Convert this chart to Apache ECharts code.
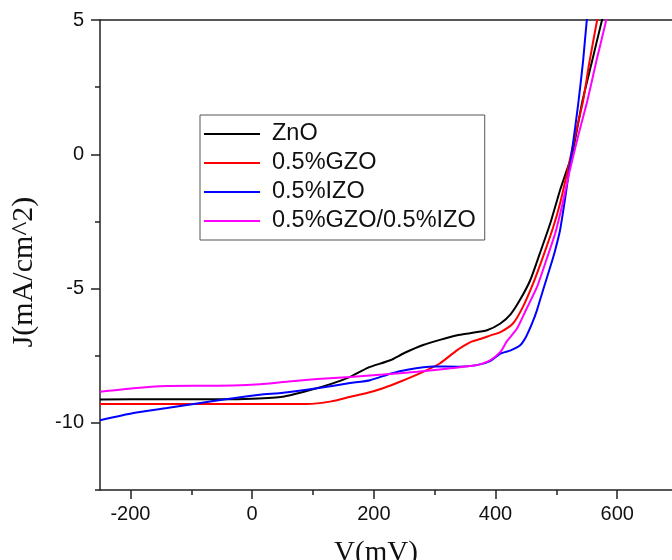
<!DOCTYPE html>
<html>
<head>
<meta charset="utf-8">
<script src="https://cdn.jsdelivr.net/npm/echarts@6/dist/echarts.min.js"></script>
<style>
  html, body { margin: 0; padding: 0; background: #ffffff; }
  #chart { width: 672px; height: 560px; }
</style>
</head>
<body>
<div id="chart"></div>
<script>
// J-V curves of the ZnO-based devices
const seriesNames = ['ZnO', '0.5%GZO', '0.5%IZO', '0.5%GZO/0.5%IZO'];

const znoV = [-250, -150, -50, 0, 50, 100, 130, 161, 190, 227, 250, 281, 310, 337, 358, 386, 408, 425, 440, 457, 473, 490, 506, 517, 526, 543, 559, 575, 590];
const znoJ = [-9.13, -9.12, -9.12, -9.1, -9.03, -8.75, -8.55, -8.29, -7.95, -7.67, -7.4, -7.1, -6.9, -6.74, -6.66, -6.55, -6.3, -5.95, -5.43, -4.69, -3.68, -2.57, -1.34, -0.6, 0, 2.0, 3.5, 5.0, 6.3];

const gzoV = [-250, -150, -50, 0, 50, 90, 130, 161, 190, 215, 245, 281, 309, 337, 358, 375, 391, 408, 429, 445, 462, 478, 495, 506, 517, 527, 536, 544, 554, 567, 580];
const gzoJ = [-9.3, -9.3, -9.3, -9.3, -9.3, -9.3, -9.2, -9.03, -8.88, -8.71, -8.45, -8.1, -7.78, -7.29, -7.0, -6.88, -6.75, -6.62, -6.29, -5.68, -4.8, -3.82, -2.7, -1.83, -0.75, 0.3, 1.2, 2.0, 3.4, 5.0, 6.6];

const izoV = [-250, -195, -140, -85, -31, 13, 51, 107, 161, 194, 227, 255, 298, 337, 369, 391, 408, 425, 440, 450, 460, 468, 478, 490, 498, 506, 514, 521, 528, 536, 544, 550, 558];
const izoJ = [-9.9, -9.63, -9.45, -9.26, -9.08, -8.95, -8.88, -8.71, -8.52, -8.41, -8.17, -8.02, -7.9, -7.91, -7.85, -7.7, -7.42, -7.3, -7.12, -6.8, -6.3, -5.81, -5.06, -4.19, -3.57, -2.83, -1.7, -0.6, 0.52, 1.9, 3.5, 5.0, 6.5];

const mixV = [-250, -195, -140, -85, -31, 13, 60, 107, 161, 215, 271, 330, 353, 369, 391, 408, 419, 435, 451, 468, 484, 498, 510, 522, 536, 551, 566, 582, 596];
const mixJ = [-8.84, -8.71, -8.63, -8.62, -8.61, -8.56, -8.46, -8.37, -8.29, -8.2, -8.1, -7.96, -7.89, -7.85, -7.67, -7.36, -6.95, -6.5, -5.75, -4.95, -3.9, -2.95, -1.85, -0.6, 0.7, 2.0, 3.5, 5.0, 6.4];

const xMajorTicks = [-200, 0, 200, 400, 600];
const xMinorTicks = [-100, 100, 300, 500];
const yMajorTicks = [-10, -5, 0, 5];
const yMinorTicks = [-12.5, -7.5, -2.5, 2.5];

const colors = ['#000000', '#ff0000', '#0000ff', '#ff00ff'];
const allV = [znoV, gzoV, izoV, mixV];
const allJ = [znoJ, gzoJ, izoJ, mixJ];

const pairs = (xs, ys) => xs.map((x, i) => [x, ys[i]]);

const axisColor = '#222222';
const tickFont = { fontFamily: 'Liberation Sans, Arial, sans-serif', fontSize: 20, color: '#111111' };
const tickLine = { color: axisColor, width: 1.5 };

// x axes: main (labels + major ticks), minor ticks, top frame line
const xBase = { type: 'value', min: -250, max: 690, splitLine: { show: false } };
const yBase = { type: 'value', min: -12.5, max: 5, splitLine: { show: false } };

const chart = echarts.init(document.getElementById('chart'), null, { renderer: 'canvas' });

chart.setOption({
  backgroundColor: '#ffffff',
  animation: false,
  grid: { left: 100, top: 20, right: 0, height: 470 },
  xAxis: [
    {
      ...xBase, position: 'bottom',
      axisLine: { show: true, onZero: false, lineStyle: tickLine },
      axisTick: { show: true, inside: false, customValues: xMajorTicks, length: 9, lineStyle: tickLine },
      axisLabel: { customValues: xMajorTicks, margin: 14, ...tickFont }
    },
    {
      ...xBase, position: 'bottom',
      axisLine: { show: false, onZero: false },
      axisTick: { show: true, inside: false, customValues: xMinorTicks, length: 5, lineStyle: tickLine },
      axisLabel: { show: false }
    },
    {
      ...xBase, position: 'top',
      axisLine: { show: true, onZero: false, lineStyle: tickLine },
      axisTick: { show: false },
      axisLabel: { show: false }
    }
  ],
  yAxis: [
    {
      ...yBase, position: 'left',
      axisLine: { show: true, onZero: false, lineStyle: tickLine },
      axisTick: { show: true, inside: false, customValues: yMajorTicks, length: 9, lineStyle: tickLine },
      axisLabel: { customValues: yMajorTicks, margin: 16, ...tickFont }
    },
    {
      ...yBase, position: 'left',
      axisLine: { show: false, onZero: false },
      axisTick: { show: true, inside: false, customValues: yMinorTicks, length: 5, lineStyle: tickLine },
      axisLabel: { show: false }
    }
  ],
  legend: {
    orient: 'vertical',
    left: 200,
    top: 115,
    padding: [7, 9, 7, 4],
    itemGap: 5,
    itemWidth: 56,
    itemHeight: 2,
    icon: 'rect',
    borderColor: '#555555',
    borderWidth: 1,
    backgroundColor: '#ffffff',
    textStyle: { fontFamily: 'Liberation Sans, Arial, sans-serif', fontSize: 23.5, lineHeight: 22, color: '#111111', padding: [0, 0, 0, 7] },
    data: seriesNames
  },
  series: seriesNames.map((name, k) => ({
    name,
    type: 'line',
    xAxisIndex: 0,
    yAxisIndex: 0,
    data: pairs(allV[k], allJ[k]),
    smooth: 0.2,
    showSymbol: false,
    clip: true,
    lineStyle: { color: colors[k], width: 2 },
    itemStyle: { color: colors[k] },
    z: 3 + k
  })),
  graphic: [
    {
      type: 'text',
      x: 24, y: 272,
      rotation: Math.PI / 2,
      style: {
        text: 'J(mA/cm^2)',
        font: '30px "Liberation Serif", "Times New Roman", serif',
        fill: '#111111',
        align: 'center', verticalAlign: 'middle'
      }
    },
    {
      type: 'text',
      x: 376, y: 553,
      style: {
        text: 'V(mV)',
        font: '29px "Liberation Serif", "Times New Roman", serif',
        fill: '#111111',
        align: 'center', verticalAlign: 'middle'
      }
    }
  ]
});
</script>
</body>
</html>
